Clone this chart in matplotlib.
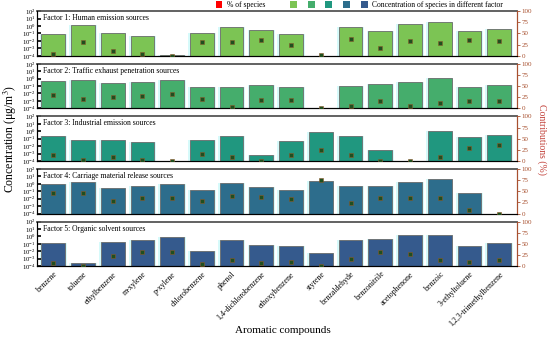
import numpy as np
import matplotlib
matplotlib.use("Agg")
import matplotlib.pyplot as plt
from matplotlib.patches import Patch
from matplotlib.legend_handler import HandlerTuple

plt.rcParams['font.family'] = ['Liberation Serif', 'DejaVu Serif']
plt.rcParams['mathtext.fontset'] = 'stix'

compounds = ["benzene", "toluene", "ethylbenzene", "m-xylene", "p-xylene",
             "chlorobenzene", "phenol", "1,4-dichlorobenzene", "ethoxybenzene",
             "styrene", "benzaldehyde", "benzonitrile", "acetophenone",
             "benzoic", "3-ethyltoluene", "1,2,3-trimethylbenzene"]

factor_names = ["Factor 1: Human emission sources",
                "Factor 2: Traffic exhaust penetration sources",
                "Factor 3: Industrial emission sources",
                "Factor 4: Carriage material release sources",
                "Factor 5: Organic solvent sources"]

# concentration of species in each factor (ug/m3)
conc_f1 = [0.087, 1.2, 0.115, 0.05, 1.15e-4, 0.13, 0.69, 0.30, 0.087, 1e-4,
           0.69, 0.2, 1.8, 3.6, 0.2, 0.35]
conc_f2 = [0.46, 0.69, 0.23, 0.35, 0.69, 0.076, 0.076, 0.15, 0.066, 1e-4,
           0.1, 0.17, 0.35, 1.4, 0.076, 0.15]
conc_f3 = [0.2, 0.066, 0.066, 0.033, 1e-4, 0.076, 0.23, 6.9e-4, 0.044, 0.69,
           0.26, 0.0028, 1e-4, 1.05, 0.15, 0.35]
conc_f4 = [0.91, 1.8, 0.30, 0.46, 0.91, 0.13, 1.2, 0.35, 0.13, 2.4,
           0.52, 0.46, 1.8, 4.8, 0.058, 1e-4]
conc_f5 = [0.115, 2.6e-4, 0.17, 0.35, 0.91, 0.0126, 0.35, 0.066, 0.044, 0.0055,
           0.35, 0.4, 1.6, 1.6, 0.05, 0.115]

# % of species (contributions)
pct_f1 = [5, 30, 11, 4, 0, 30, 30, 36, 25, 1, 38, 17, 33, 29, 36, 33]
pct_f2 = [30, 22, 26, 27, 32, 21, 2, 19, 19, 0, 5, 17, 5, 13, 16, 16]
pct_f3 = [13, 2, 8, 3, 0, 16, 9, 0, 13, 24, 14, 0, 0, 9, 29, 36]
pct_f4 = [45, 45, 29, 34, 34, 28, 40, 37, 32, 75, 23, 34, 34, 34, 9, 0]
pct_f5 = [8, 0, 23, 31, 32, 4, 14, 8, 10, 0, 16, 31, 27, 13, 10, 13]

conc = [conc_f1, conc_f2, conc_f3, conc_f4, conc_f5]
pct = [pct_f1, pct_f2, pct_f3, pct_f4, pct_f5]
colors = ['#7cc454', '#45ad6c', '#20977f', '#2d6d8c', '#355a8d']
brown = '#a8502f'

x = np.arange(len(compounds))

fig, axes = plt.subplots(5, 1, figsize=(5.5, 3.39), dpi=100, sharex=True)
fig.subplots_adjust(left=0.067, right=0.94, top=0.967, bottom=0.215, hspace=0.18)

for i, ax in enumerate(axes):
    ax.bar(x, conc[i], width=0.92, color='#d6fafa', edgecolor='none', zorder=1)
    ax.bar(x, conc[i], width=0.8, color=colors[i], edgecolor='#6b6b6b',
           linewidth=0.6, zorder=2)
    ax.set_yscale('log')
    ax.set_ylim(1e-4, 1e2)
    ax.set_yticks([1e-4, 1e-3, 1e-2, 1e-1, 1e0, 1e1, 1e2])
    ax.tick_params(axis='y', which='major', labelsize=4.8, direction='in',
                   length=3, width=1.2, pad=1)
    ax.tick_params(axis='y', which='minor', direction='in', length=1.5, width=0.6)
    ax.set_xlim(-0.55, 15.6)
    ax.tick_params(axis='x', length=0)
    for s in ['left', 'bottom']:
        ax.spines[s].set_linewidth(0.8)
    ax.spines['top'].set_linewidth(1.3)
    ax.spines['top'].set_color('#555555')
    ax.spines['right'].set_color(brown)
    ax.text(0.012, 0.93, factor_names[i], transform=ax.transAxes,
            fontsize=5.5, va='top', ha='left', zorder=5)

    ax2 = ax.twinx()
    ax2.plot(x, pct[i], ls='none', marker='s', markersize=2.6,
             markerfacecolor='#1f4f1f', markeredgecolor='#8b5a2b',
             markeredgewidth=0.4, zorder=6)
    ax2.set_ylim(0, 100)
    ax2.set_yticks([0, 25, 50, 75, 100])
    ax2.tick_params(axis='y', labelsize=5, colors=brown, length=2.5,
                    width=0.6, pad=1)
    ax2.spines['right'].set_color(brown)
    ax2.spines['top'].set_visible(False)

axes[-1].set_xticks(x)
axes[-1].set_xticklabels(compounds, rotation=45, ha='right',
                         rotation_mode='anchor', fontsize=5.7)
axes[-1].tick_params(axis='x', pad=3)

fig.text(0.515, 0.026, 'Aromatic compounds', fontsize=8, va='center', ha='center')
fig.text(0.018, 0.59, 'Concentration (μg/m$^3$)', rotation=90,
         fontsize=8.5, va='center', ha='center')
fig.text(0.985, 0.59, 'Contributions (%)', rotation=270, color='#c2413a',
         fontsize=7, va='center', ha='center')

red = Patch(facecolor='red', edgecolor='none')
leg1 = fig.legend([red], ['% of species'], loc='center left',
                  bbox_to_anchor=(0.392, 0.985), frameon=False, fontsize=5.5,
                  handlelength=0.9, handleheight=0.9, handletextpad=0.6,
                  borderpad=0, borderaxespad=0)
squares = tuple(Patch(facecolor=c, edgecolor='none') for c in colors)
leg2 = fig.legend([squares], ['Concentration of species in different factor'],
                  handler_map={tuple: HandlerTuple(ndivide=None, pad=1.4)},
                  loc='center left', bbox_to_anchor=(0.527, 0.985),
                  frameon=False, fontsize=5.5, handlelength=10.2,
                  handleheight=0.9, handletextpad=0.6, borderpad=0,
                  borderaxespad=0)

fig.savefig('out.png', dpi=100)
